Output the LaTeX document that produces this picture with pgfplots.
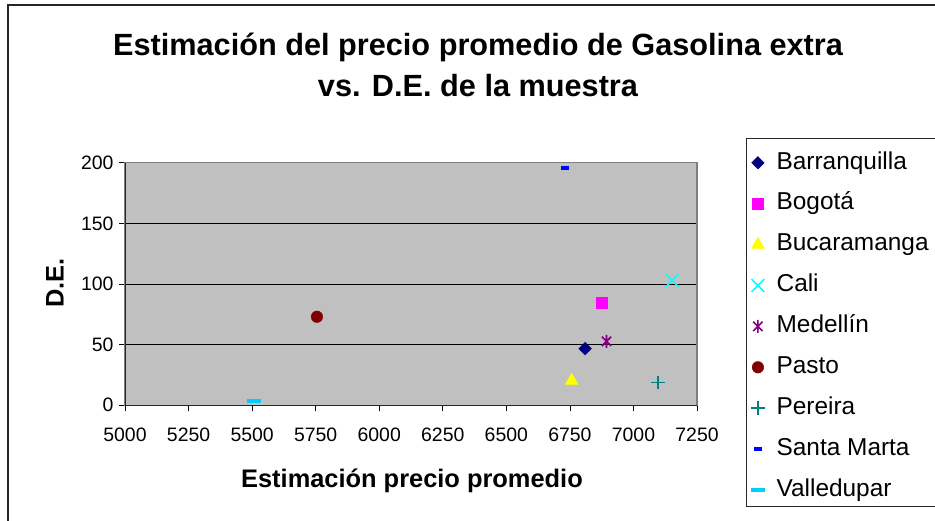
\documentclass[border=0pt]{standalone}
\usepackage{pgfplots}
\pgfplotsset{compat=1.18}
\usepackage{fontspec}
\setmainfont{Liberation Sans}

\definecolor{plotgray}{RGB}{192,192,192}
\definecolor{framegray}{RGB}{128,128,128}
\definecolor{cBarr}{RGB}{0,0,128}
\definecolor{cBog}{RGB}{255,0,255}
\definecolor{cBuc}{RGB}{255,255,0}
\definecolor{cCali}{RGB}{0,255,255}
\definecolor{cMed}{RGB}{128,0,128}
\definecolor{cPas}{RGB}{128,0,0}
\definecolor{cPer}{RGB}{0,128,128}
\definecolor{cSM}{RGB}{0,0,255}
\definecolor{cVal}{RGB}{0,204,255}

% Excel-style star: x with a vertical stroke
\pgfdeclareplotmark{xstar}{%
  \pgfpathmoveto{\pgfqpoint{-.7071\pgfplotmarksize}{-.7071\pgfplotmarksize}}%
  \pgfpathlineto{\pgfqpoint{.7071\pgfplotmarksize}{.7071\pgfplotmarksize}}%
  \pgfpathmoveto{\pgfqpoint{-.7071\pgfplotmarksize}{.7071\pgfplotmarksize}}%
  \pgfpathlineto{\pgfqpoint{.7071\pgfplotmarksize}{-.7071\pgfplotmarksize}}%
  \pgfpathmoveto{\pgfqpoint{0pt}{-\pgfplotmarksize}}%
  \pgfpathlineto{\pgfqpoint{0pt}{\pgfplotmarksize}}%
  \pgfusepathqstroke}

\begin{document}
\begin{tikzpicture}[x=1bp,y=1bp]
\useasboundingbox (0,0) rectangle (935,521);
\fill[white] (0,0) rectangle (935,521);
% outer chart frame
\draw[line width=1.3bp, black!85] (8,-5) -- (8,516) -- (945,516);
% legend frame
\draw[line width=1bp, black!85] (746,382) -- (945,382) (746,382) -- (746,14) -- (945,14);

\node[font=\fontsize{30.8}{36}\selectfont\bfseries] at (478,474) {Estimación del precio promedio de Gasolina extra};
\node[font=\fontsize{30.8}{36}\selectfont\bfseries] at (478,435) {vs. D.E. de la muestra};

\begin{axis}[
  at={(125bp,115.7bp)}, anchor=south west,
  scale only axis, width=572bp, height=242.6bp,
  xmin=5000, xmax=7250, ymin=0, ymax=200,
  xtick={5000,5250,...,7250}, ytick={0,50,...,200},
  xtick pos=bottom, ytick pos=left,
  tick align=outside, major tick length=6bp,
  tick style={black, line width=0.8bp},
  axis line style={framegray, line width=1.2bp},
  axis background/.style={fill=plotgray},
  ymajorgrids, grid style={black, line width=0.8bp},
  tick label style={font=\fontsize{19.5}{22}\selectfont},
  xticklabel style={yshift=-13bp},
  yticklabel style={xshift=-2bp},
  /pgf/number format/assume math mode=true,
  /pgf/number format/1000 sep={},
  xlabel={Estimación precio promedio},
  ylabel={D.E.},
  label style={font=\fontsize{25.5}{28}\selectfont\bfseries},
  xlabel style={at={(rel axis cs:0.5017,-0.313)}, anchor=center},
  ylabel style={at={(rel axis cs:-0.1224,0.504)}, anchor=center, rotate=0},
  legend cell align=left,
  legend image code/.code={\draw[#1] plot coordinates {(6bp,0bp)};},
  legend style={draw=none, fill=none, at={(rel axis cs:1.0892,1.055)}, anchor=north west,
    font=\fontsize{24.5}{26}\selectfont, row sep=18.4bp, column sep=0bp,
    nodes={inner sep=0pt, text height=17.5bp, text depth=5bp}},
]
\addplot[only marks, mark=diamond*, mark size=6.3bp, color=cBarr, mark options={xscale=1.33}] coordinates {(6810,46.7)};
\addlegendentry{\hspace{12bp}Barranquilla}
\addplot[only marks, mark=square*, mark size=5.6bp, color=cBog] coordinates {(6876,84.5)};
\addlegendentry{\hspace{12bp}Bogotá}
\addplot[only marks, mark=triangle*, mark size=7.5bp, color=cBuc] coordinates {(6757,20.3)};
\addlegendentry{\hspace{12bp}Bucaramanga}
\addplot[only marks, mark=x, mark size=9bp, color=cCali, mark options={line width=1.6bp}] coordinates {(7152,103)};
\addlegendentry{\hspace{12bp}Cali}
\addplot[only marks, mark=xstar, mark size=6.6bp, color=cMed, mark options={line width=1.6bp}] coordinates {(6894,52.7)};
\addlegendentry{\hspace{12bp}Medellín}
\addplot[only marks, mark=*, mark size=5.8bp, color=cPas] coordinates {(5755,73)};
\addlegendentry{\hspace{12bp}Pasto}
\addplot[only marks, mark=+, mark size=6.7bp, color=cPer, mark options={line width=1.5bp}] coordinates {(7097,18.7)};
\addlegendentry{\hspace{12bp}Pereira}
\addplot[only marks, mark=-, mark size=4bp, color=cSM, mark options={line width=4bp}] coordinates {(6730,196)};
\addlegendentry{\hspace{12bp}Santa Marta}
\addplot[only marks, mark=-, mark size=6.7bp, color=cVal, mark options={line width=4bp}] coordinates {(5508,3.6)};
\addlegendentry{\hspace{12bp}Valledupar}
\draw[black!85, line width=1.2bp] (rel axis cs:0,1) -- (rel axis cs:0,0) -- (rel axis cs:1,0);
\end{axis}
\end{tikzpicture}
\end{document}
